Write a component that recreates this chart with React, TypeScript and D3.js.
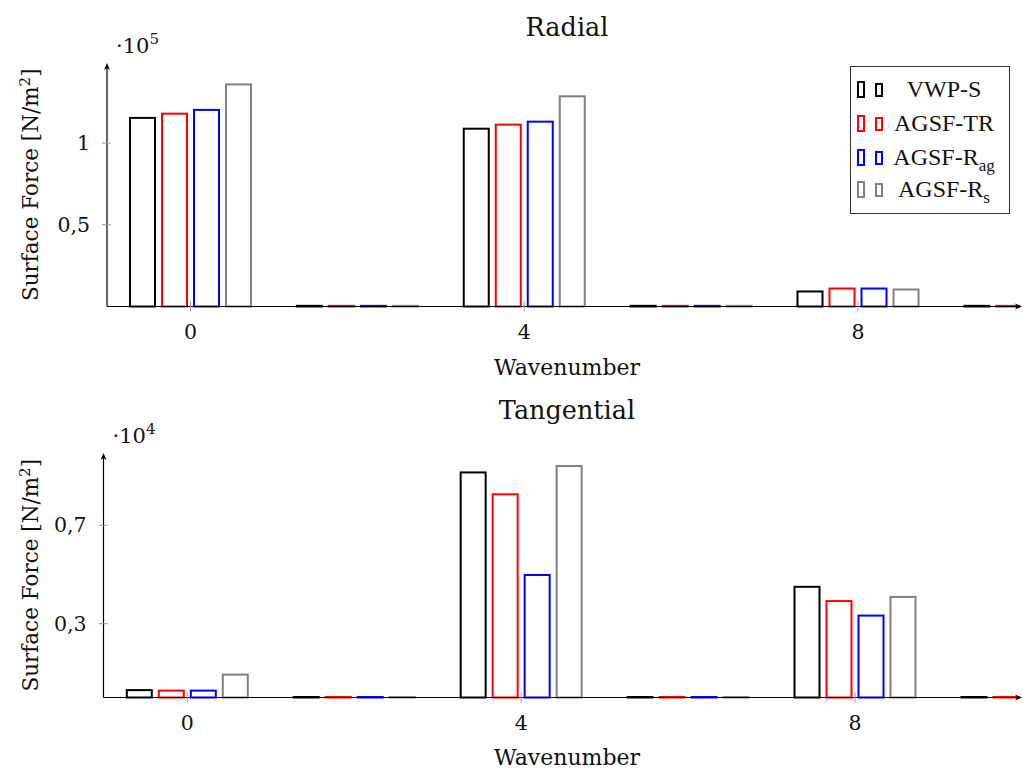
import React from "react";
import * as d3 from "d3";

const wavenumbers = [0, 2, 4, 6, 8, 10];
const xTickValues = [0, 4, 8];
const seriesNames = ["VWP-S", "AGSF-TR", "AGSF-Rag", "AGSF-Rs"];
const seriesColors = ["#000000", "#ff0000", "#0000ff", "#808080"];

// Radial, in units of 1e5 N/m^2
const radialVWPS = [1.154, 0.004, 1.088, 0.004, 0.092, 0.004];
const radialTR = [1.18, 0.004, 1.113, 0.004, 0.11, 0.004];
const radialRag = [1.203, 0.004, 1.131, 0.004, 0.11, 0.004];
const radialRs = [1.359, 0.004, 1.286, 0.004, 0.104, 0.004];
const radialTicks = [0.5, 1];
const radialTickLabels = ["0,5", "1"];

// Tangential, in units of 1e4 N/m^2
const tangVWPS = [0.03, 0.002, 0.915, 0.002, 0.45, 0.002];
const tangTR = [0.028, 0.002, 0.826, 0.002, 0.392, 0.002];
const tangRag = [0.028, 0.002, 0.498, 0.002, 0.333, 0.002];
const tangRs = [0.093, 0.002, 0.941, 0.002, 0.409, 0.002];
const tangTicks = [0.3, 0.7];
const tangTickLabels = ["0,3", "0,7"];

const SERIF = "'DejaVu Serif', serif";
const TIMES = "'Liberation Serif', serif";

type PanelProps = {
  id: string;
  title: string;
  titleY: number;
  exponent: string;
  series: number[][];
  yMax: number;
  yTicks: number[];
  yTickLabels: string[];
  axisX: number;
  axisRight: number;
  baseY: number;
  topY: number;
  x0: number;
  x8: number;
  xLabelY: number;
  children?: React.ReactNode;
};

function Panel(p: PanelProps) {
  const x = d3.scaleLinear().domain([0, 8]).range([p.x0, p.x8]);
  const y = d3.scaleLinear().domain([0, p.yMax]).range([p.baseY, p.topY]);
  const offsets = [-48, -16, 16, 48];
  const barW = 25;
  return (
    <g>
      <defs>
        <clipPath id={p.id + "-clip"}>
          <rect x={p.axisX} y={p.topY - 20} width={p.axisRight - p.axisX - 2} height={p.baseY - p.topY + 30} />
        </clipPath>
      </defs>
      <text x={567} y={p.titleY} textAnchor="middle" fontFamily={SERIF} fontSize={25.5} fill="#111">
        {p.title}
      </text>
      <g clipPath={`url(#${p.id}-clip)`}>
        {p.series.map((vals, si) =>
          vals.map((v, i) => {
            const cx = x(wavenumbers[i]) + offsets[si];
            const top = y(v);
            return (
              <rect
                key={si + "-" + i}
                x={cx - barW / 2}
                y={top}
                width={barW}
                height={Math.max(0, p.baseY - top)}
                fill="none"
                stroke={seriesColors[si]}
                strokeWidth={2}
              />
            );
          })
        )}
      </g>
      {/* x axis */}
      <line x1={p.axisX} x2={p.axisRight - 3} y1={p.baseY} y2={p.baseY} stroke="#000" strokeWidth={1.2} />
      <path
        d={`M${p.axisRight},${p.baseY} L${p.axisRight - 7},${p.baseY - 3} L${p.axisRight - 5},${p.baseY} L${p.axisRight - 7},${p.baseY + 3} Z`}
        fill="#000"
      />
      {/* y axis */}
      <line x1={p.axisX} x2={p.axisX} y1={p.baseY} y2={p.topY + 3} stroke="#000" strokeWidth={1.2} />
      <path
        d={`M${p.axisX},${p.topY} L${p.axisX - 3},${p.topY + 7} L${p.axisX},${p.topY + 5} L${p.axisX + 3},${p.topY + 7} Z`}
        fill="#000"
      />
      {/* x ticks */}
      {xTickValues.map((t) => (
        <g key={t}>
          <line x1={x(t)} x2={x(t)} y1={p.baseY - 5} y2={p.baseY + 5} stroke="#999" strokeWidth={1} />
          <text x={x(t)} y={p.baseY + 32} textAnchor="middle" fontFamily={SERIF} fontSize={20.5} fill="#111">
            {t}
          </text>
        </g>
      ))}
      {/* y ticks */}
      {p.yTicks.map((t, i) => (
        <g key={t}>
          <line x1={p.axisX - 5} x2={p.axisX + 4} y1={y(t)} y2={y(t)} stroke="#999" strokeWidth={1} />
          <text x={p.axisX - 17} y={y(t) + 7} textAnchor="end" fontFamily={SERIF} fontSize={20.5} fill="#111">
            {p.yTickLabels[i]}
          </text>
        </g>
      ))}
      {/* exponent */}
      <text x={p.axisX + 9} y={p.topY - 10} fontFamily={SERIF} fontSize={21} fill="#111">
        {"·10"}
        <tspan fontSize={15} dy={-9}>
          {p.exponent}
        </tspan>
      </text>
      {/* y label */}
      <text
        transform={`translate(38,${(p.baseY + p.topY) / 2}) rotate(-90)`}
        textAnchor="middle"
        fontFamily={SERIF}
        fontSize={21.5}
        fill="#111"
      >
        Surface Force [N/m
        <tspan fontSize={15} dy={-8}>
          2
        </tspan>
        <tspan dy={8}>]</tspan>
      </text>
      {/* x label */}
      <text x={567} y={p.xLabelY} textAnchor="middle" fontFamily={SERIF} fontSize={22} fill="#111">
        Wavenumber
      </text>
      {p.children}
    </g>
  );
}

function Legend() {
  const left = 850.5;
  const top = 66.5;
  const rowY = [89, 123, 157, 189];
  const labels: React.ReactNode[] = [
    <tspan>VWP-S</tspan>,
    <tspan>AGSF-TR</tspan>,
    <tspan>
      AGSF-R<tspan fontSize={17} dy={6}>ag</tspan>
    </tspan>,
    <tspan>
      AGSF-R<tspan fontSize={17} dy={6}>s</tspan>
    </tspan>,
  ];
  return (
    <g>
      <rect x={left} y={top} width={159} height={147} fill="#fff" stroke="#333" strokeWidth={1} />
      {seriesNames.map((n, i) => (
        <g key={n}>
          <rect x={858} y={rowY[i] - 7} width={6} height={15} fill="none" stroke={seriesColors[i]} strokeWidth={2} />
          <rect x={876} y={rowY[i] - 5} width={6} height={12} fill="none" stroke={seriesColors[i]} strokeWidth={2} />
          <text x={944} y={rowY[i] + 8} textAnchor="middle" fontFamily={TIMES} fontSize={24} fill="#111">
            {labels[i]}
          </text>
        </g>
      ))}
    </g>
  );
}

export default function App() {
  return (
    <svg
      width={1023}
      height={775}
      style={{ position: "absolute", left: 0, top: 0, background: "#fff" }}
    >
      <Panel
        id="radial"
        title="Radial"
        titleY={36}
        exponent="5"
        series={[radialVWPS, radialTR, radialRag, radialRs]}
        yMax={1.49}
        yTicks={radialTicks}
        yTickLabels={radialTickLabels}
        axisX={107}
        axisRight={1022}
        baseY={306.5}
        topY={63}
        x0={190.5}
        x8={858}
        xLabelY={375}
      >
        <Legend />
      </Panel>
      <Panel
        id="tang"
        title="Tangential"
        titleY={419}
        exponent="4"
        series={[tangVWPS, tangTR, tangRag, tangRs]}
        yMax={0.994}
        yTicks={tangTicks}
        yTickLabels={tangTickLabels}
        axisX={103.5}
        axisRight={1022}
        baseY={697.5}
        topY={453}
        x0={187.3}
        x8={855}
        xLabelY={765}
      />
    </svg>
  );
}
